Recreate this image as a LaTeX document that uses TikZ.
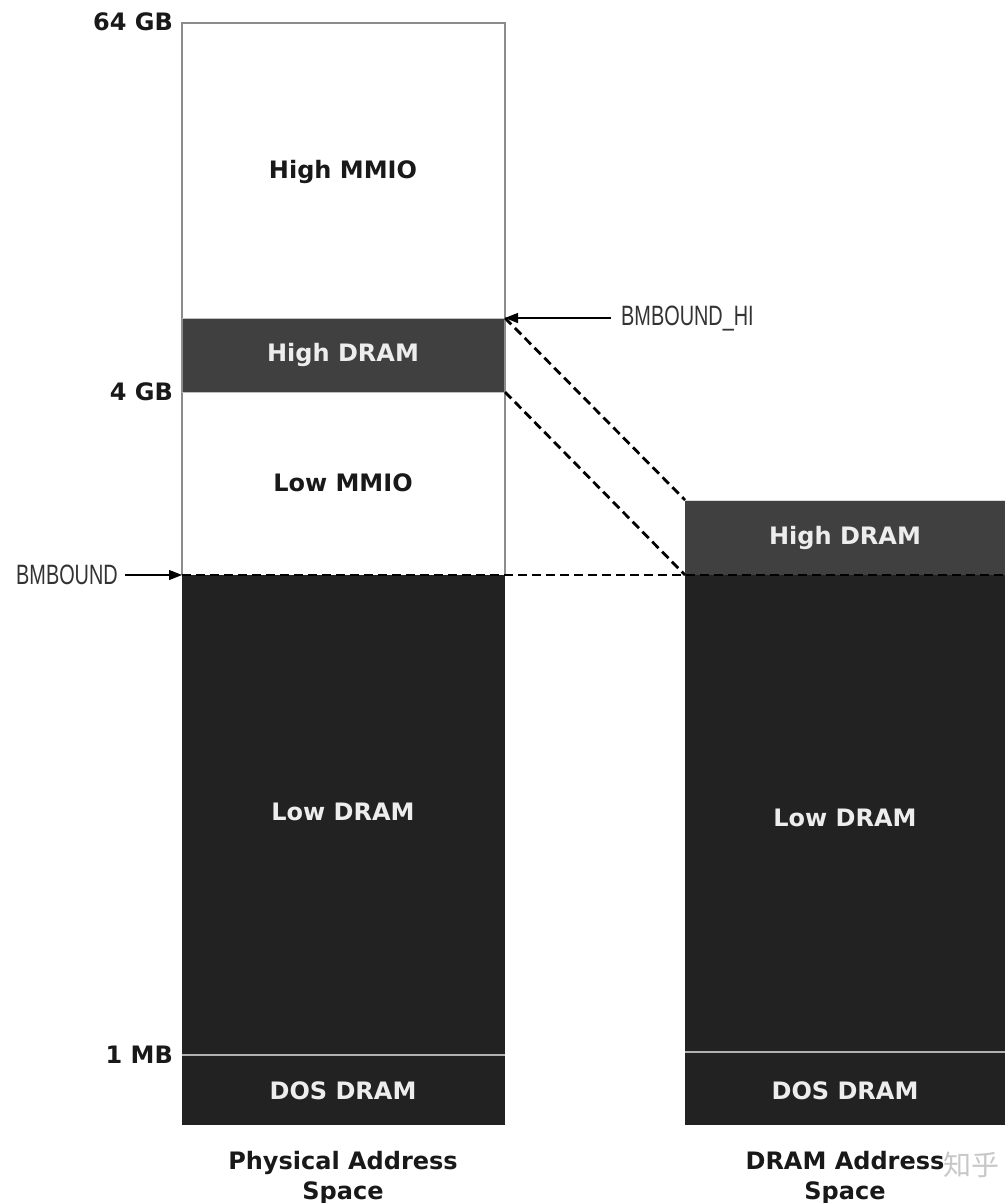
\documentclass[tikz,border=0pt]{standalone}
\usepackage{fontspec}
\setmainfont{DejaVu Sans}
\newfontfamily\condfont[FakeStretch=0.71]{Liberation Sans}
\newfontfamily\cjkfont{Noto Sans CJK SC}
\usetikzlibrary{arrows.meta}
\definecolor{hidram}{HTML}{404040}
\definecolor{lodram}{HTML}{222222}
\definecolor{edge}{HTML}{8C8C8C}
\begin{document}
\begin{tikzpicture}[x=1pt,y=-1pt,
  lbl/.style={font=\bfseries\fontsize{24}{30}\selectfont, text=black!90},
  wlbl/.style={lbl, text=white!93!black},
  bmtext/.style={font=\condfont\fontsize{28}{30}\selectfont, text=black!80},
  conn/.style={line width=1.1pt, -{Triangle[length=13pt,width=10pt]}},
  dashln/.style={line width=2.8pt, dash pattern=on 9pt off 5pt}]
\useasboundingbox (0,0) rectangle (1005,1203);
% Left column
\fill[lodram] (182,575) rectangle (505,1125);
\fill[hidram] (182,318) rectangle (505,392);
\draw[edge, line width=1.1pt] (182,575) -- (182,23) -- (505,23) -- (505,575);
\draw[white!70!black, line width=1.5pt] (182,1055) -- (505,1055);
\draw[white!75!black, line width=1pt] (182,318) -- (505,318);
\draw[white!75!black, line width=1pt] (182,392) -- (505,392);
% Right column
\fill[lodram] (685,575) rectangle (1005,1125);
\fill[hidram] (685,500) rectangle (1005,575);
\draw[white!85!black, line width=1pt] (685,500) -- (1005,500);
\draw[white!70!black, line width=1.5pt] (685,1052) -- (1005,1052);
% region labels
\node[lbl] (hmmio) at (343,172) {High MMIO};
\node[wlbl] (hdram) at (343,355) {High DRAM};
\node[lbl] (lmmio) at (343,483) {Low MMIO};
\node[wlbl] (ldram) at (343,812) {Low DRAM};
\node[wlbl] (dos) at (343,1091) {DOS DRAM};
\node[wlbl] (hdram2) at (845,538) {High DRAM};
\node[wlbl] (ldram2) at (845,818) {Low DRAM};
\node[wlbl] (dos2) at (845,1091) {DOS DRAM};
% size labels
\node[lbl, anchor=east, inner sep=0pt] (g64) at (173,22) {64 GB};
\node[lbl, anchor=east, inner sep=0pt] (g4) at (173,392) {4 GB};
\node[lbl, anchor=east, inner sep=0pt] (m1) at (173,1055) {1 MB};
% captions
\node[lbl, align=center] (cap1) at (343,1178) {Physical Address\\Space};
\node[lbl, align=center] (cap2) at (845,1178) {DRAM Address\\Space};
\node[text=black!22, font=\cjkfont\fontsize{28}{30}\selectfont, anchor=west, inner sep=0pt] (wm) at (943,1165) {知乎};
% boundary markers
\coordinate (pHi) at (505,318);
\coordinate (p4g) at (505,392);
\coordinate (qHi) at (685,500);
\coordinate (qBm) at (685,575);
\coordinate (bmL) at (182,575);
\coordinate (bmR) at (1005,575);
\node[bmtext, anchor=west, inner sep=0pt] (bmhi) at (621,319) {BMBOUND\_HI};
\node[bmtext, anchor=east, inner sep=0pt] (bm) at (118,575) {BMBOUND};
\draw[conn] ([xshift=-10pt]pHi -| bmhi.west) -- (pHi);
\draw[conn] ([xshift=7pt]bmL -| bm.east) -- (bmL);
\draw[dashln] (bmL) -- (bmR);
\draw[dashln] (pHi) -- (qHi);
\draw[dashln] (p4g) -- (qBm);
\end{tikzpicture}
\end{document}
